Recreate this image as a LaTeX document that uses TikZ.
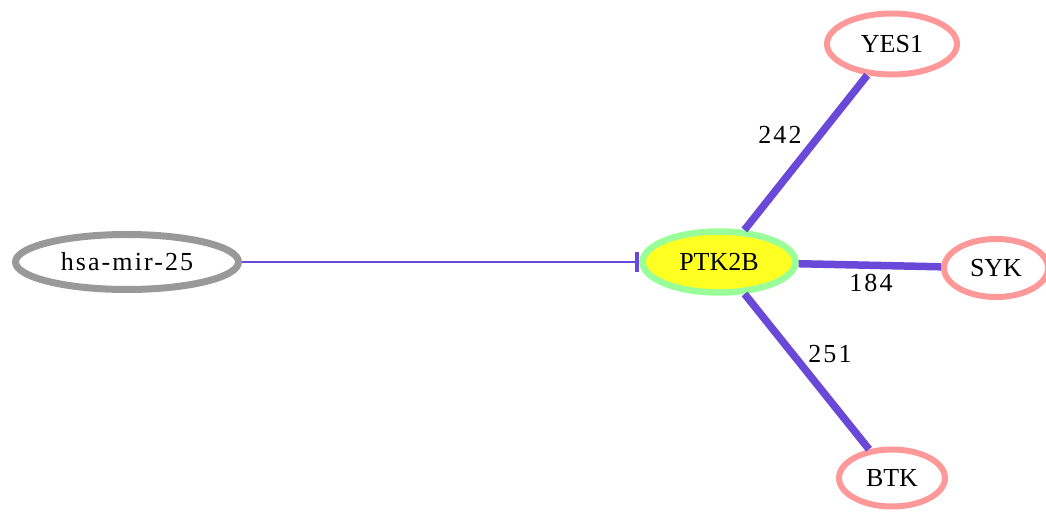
\documentclass[tikz,border=0pt]{standalone}
\usepackage{fontspec}
\setmainfont{Liberation Serif}
\usetikzlibrary{shapes.geometric,arrows.meta}
\definecolor{edgec}{RGB}{106,72,216}
\definecolor{greyc}{RGB}{153,153,153}
\definecolor{pinkc}{RGB}{255,153,153}
\definecolor{greenc}{RGB}{153,255,153}
\definecolor{yellc}{RGB}{255,255,34}
\tikzset{
  gene/.style={ellipse, draw=pinkc, line width=6pt, inner sep=0pt, font=\fontsize{26}{28}\selectfont},
  hub/.style={ellipse, draw=greenc, fill=yellc, line width=6.5pt, inner sep=0pt, font=\fontsize{26}{28}\selectfont},
  mirna/.style={ellipse, draw=greyc, line width=7pt, inner sep=0pt, font=\fontsize{26}{28}\selectfont\addfontfeature{LetterSpace=8}},
  ppi/.style={draw=edgec, line width=7.5pt},
  inhib/.style={draw=edgec, line width=1.4pt, -{Bar[width=20pt,line width=4.5pt]}},
  elab/.style={font=\fontsize{26}{28}\selectfont\addfontfeature{LetterSpace=8}, inner sep=0pt}
}
\begin{document}
\begin{tikzpicture}[x=1pt,y=1pt]
\useasboundingbox (0,0) rectangle (1046,511);
\node[mirna, minimum width=223pt, minimum height=55pt] (mir) at (127,249) {hsa-mir-25};
\node[hub, minimum width=153pt, minimum height=61pt] (ptk) at (719,249) {PTK2B};
\node[gene, minimum width=130pt, minimum height=61pt] (yes) at (892,467) {YES1};
\node[gene, minimum width=104pt, minimum height=58pt] (syk) at (996,243) {SYK};
\node[gene, minimum width=106pt, minimum height=57pt] (btk) at (892,33) {BTK};
\draw[inhib] (mir) -- (ptk);
\draw[ppi] (ptk) -- (yes);
\draw[ppi] (ptk) -- (syk);
\draw[ppi] (ptk) -- (btk);
\node[elab] (l242) at (780,376) {242};
\node[elab] (l184) at (871,228) {184};
\node[elab] (l251) at (830,157) {251};
\end{tikzpicture}
\end{document}
